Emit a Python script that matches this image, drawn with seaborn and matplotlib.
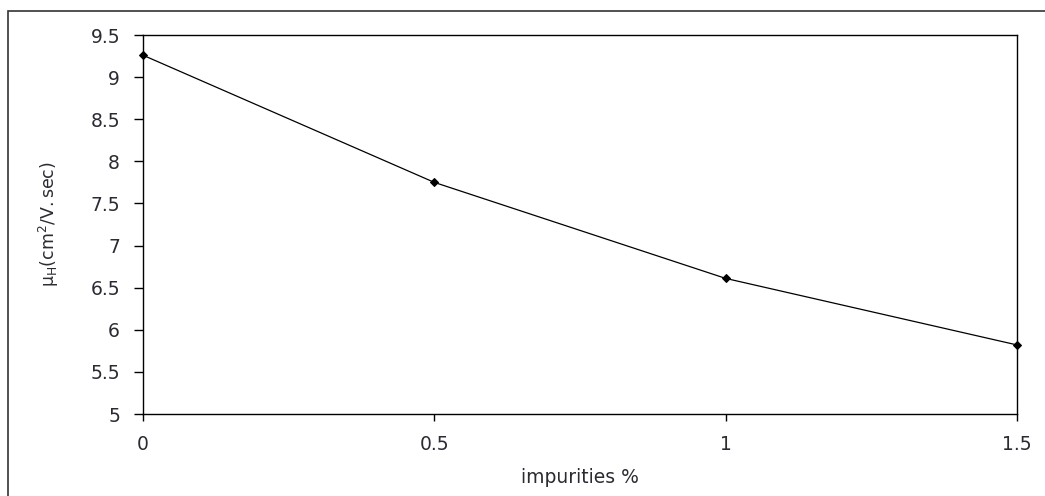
import matplotlib
matplotlib.use("Agg")
import matplotlib.pyplot as plt
import seaborn as sns
import pandas as pd
from matplotlib.patches import Rectangle

impurities = [0.0, 0.5, 1.0, 1.5]
mobility = [9.26, 7.75, 6.61, 5.82]
x_ticks = [0, 0.5, 1, 1.5]
x_tick_labels = ["0", "0.5", "1", "1.5"]
y_ticks = [5, 5.5, 6, 6.5, 7, 7.5, 8, 8.5, 9, 9.5]
y_tick_labels = ["5", "5.5", "6", "6.5", "7", "7.5", "8", "8.5", "9", "9.5"]

sns.set_theme(style="white")
plt.rcParams['font.family'] = ['DejaVu Sans']
plt.rcParams['mathtext.fontset'] = 'custom'
plt.rcParams['mathtext.rm'] = 'DejaVu Sans'

df = pd.DataFrame({"impurities": impurities, "mobility": mobility})

fig = plt.figure(figsize=(10.45, 4.96), dpi=100)
ax = fig.add_axes([143/1045, 1 - 414/496, (1017-143)/1045, (414-35)/496])

sns.lineplot(data=df, x="impurities", y="mobility", ax=ax, color="black",
             linewidth=0.9, marker="D", markersize=4.5, markeredgecolor="black",
             markerfacecolor="black", clip_on=False)

ax.set_xlim(0, 1.5)
ax.set_ylim(5, 9.5)
ax.set_xticks(x_ticks)
ax.set_xticklabels(x_tick_labels)
ax.set_yticks(y_ticks)
ax.set_yticklabels(y_tick_labels)

text_color = "#2d2a33"
ax.tick_params(axis="y", direction="out", length=6.5, width=1, color="black",
               labelsize=13.5, labelcolor=text_color, pad=10, left=True)
ax.tick_params(axis="x", direction="out", length=5, width=1, color="black",
               labelsize=13.5, labelcolor=text_color, pad=10, bottom=True)

for sp in ax.spines.values():
    sp.set_visible(True)
    sp.set_color("black")
    sp.set_linewidth(1.0)

ax.set_xlabel("impurities %", fontsize=13.5, color=text_color)
ax.set_ylabel(r"$\mathregular{μ_H(cm^2/V.sec)}$", fontsize=12.5, color=text_color)
ax.xaxis.set_label_coords(0.5, -0.143)
ax.xaxis.label.set_va("top")
ax.yaxis.set_label_coords(-0.1076, 0.5)
ax.yaxis.label.set_va("center")

frame = Rectangle((8/1045, -0.05), 1.1, 1 - 11/496 + 0.05, transform=fig.transFigure,
                  fill=False, edgecolor="#333333", linewidth=1.2, clip_on=False)
fig.patches.append(frame)

fig.savefig("out.png", dpi=100)
